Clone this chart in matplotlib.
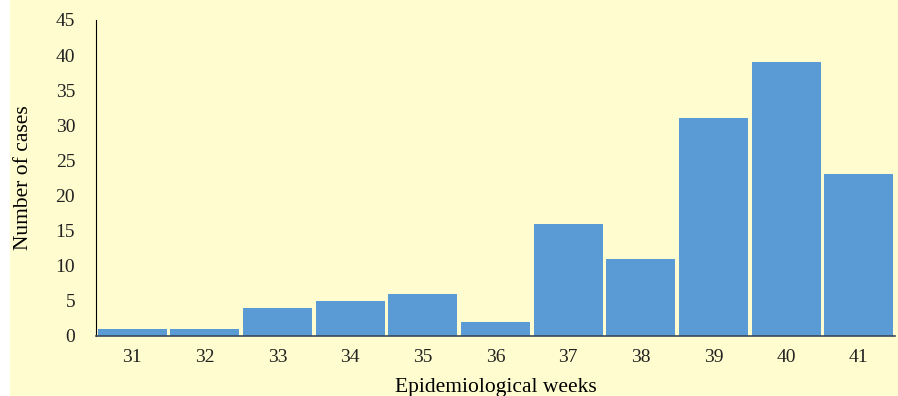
import matplotlib.pyplot as plt
from matplotlib.patches import Rectangle

weeks = ['31', '32', '33', '34', '35', '36', '37', '38', '39', '40', '41']
cases = [1, 1, 4, 5, 6, 2, 16, 11, 31, 39, 23]

plt.rcParams['font.family'] = ['Liberation Serif', 'DejaVu Serif']

fig = plt.figure(figsize=(8.98, 3.96), dpi=100)
fig.patch.set_facecolor('white')
fig.patches.append(Rectangle((10 / 898, 0), 1, 1, transform=fig.transFigure,
                             facecolor='#FFFDCF', edgecolor='none', zorder=-1))

ax = fig.add_axes([96 / 898, 60 / 396, 799 / 898, 316 / 396])
ax.set_facecolor('none')

x = range(len(weeks))
ax.bar(x, cases, width=0.95, color='#5B9BD5', zorder=2)

ax.set_xlim(-0.5, len(weeks) - 0.5)
ax.set_ylim(0, 45)
ax.set_yticks(range(0, 46, 5))
ax.set_xticks(list(x))
ax.set_xticklabels(weeks)

ax.spines['top'].set_visible(False)
ax.spines['right'].set_visible(False)
ax.spines['left'].set_color('black')
ax.spines['bottom'].set_color('#3A4A5A')
ax.spines['bottom'].set_linewidth(1.2)
ax.spines['bottom'].set_zorder(3)
ax.tick_params(axis='both', length=0, labelsize=14, colors='#222222')
ax.tick_params(axis='x', pad=9)
ax.tick_params(axis='y', pad=15)

ax.set_xlabel('Epidemiological weeks', fontsize=15.5, labelpad=9)
ax.set_ylabel('Number of cases', fontsize=15.5, labelpad=16)

fig.savefig('out.png', dpi=100)
